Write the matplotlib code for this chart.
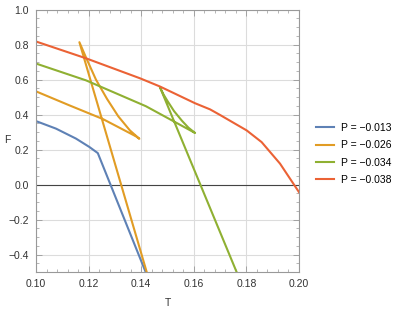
import numpy as np
import matplotlib
matplotlib.use("Agg")
import matplotlib.pyplot as plt
from matplotlib.ticker import MultipleLocator

# ---------------- DATA ----------------
labels = ["P = \u22120.013", "P = \u22120.026", "P = \u22120.034", "P = \u22120.038"]
colors = ["#5E81B5", "#E19C24", "#8FB032", "#EB6235"]

T_blue = [0.100, 0.1076, 0.1152, 0.1203, 0.1235, 0.1417]
F_blue = [0.363, 0.320, 0.263, 0.215, 0.180, -0.500]

# lower branch -> cusp -> middle branch -> cusp -> upper branch
T_orange = [0.100, 0.1127, 0.1254, 0.1380, 0.1393,
            0.1357, 0.1313, 0.1270, 0.1228, 0.1192, 0.1165,
            0.1421]
F_orange = [0.533, 0.453, 0.375, 0.276, 0.262,
            0.310, 0.390, 0.490, 0.600, 0.720, 0.814,
            -0.500]

T_green = [0.100, 0.1190, 0.1418, 0.1522, 0.1605,
           0.1580, 0.1555, 0.1525, 0.1500, 0.1485, 0.1471,
           0.1763]
F_green = [0.692, 0.596, 0.448, 0.363, 0.295,
           0.325, 0.365, 0.420, 0.478, 0.515, 0.558,
           -0.500]

T_red = [0.100, 0.119, 0.1395, 0.1471, 0.1605, 0.1662, 0.170,
         0.1801, 0.1858, 0.1928, 0.2001]
F_red = [0.818, 0.722, 0.608, 0.561, 0.465, 0.430, 0.398,
         0.310, 0.243, 0.120, -0.045]

series = [(T_blue, F_blue), (T_orange, F_orange), (T_green, F_green), (T_red, F_red)]

# ---------------- PLOT ----------------
plt.rcParams['font.family'] = ['Liberation Sans', 'DejaVu Sans']
fig = plt.figure(figsize=(4.07, 3.12), dpi=100)
ax = fig.add_axes([0.0885, 0.128, 0.646, 0.841])

for (t, f), c, lab in zip(series, colors, labels):
    ax.plot(t, f, color=c, lw=1.5, label=lab, solid_joinstyle='round')

ax.axhline(0, color='#444444', lw=0.8, zorder=1)

ax.set_xlim(0.10, 0.20)
ax.set_ylim(-0.5, 1.0)
ax.xaxis.set_major_locator(MultipleLocator(0.02))
ax.xaxis.set_minor_locator(MultipleLocator(0.004))
ax.yaxis.set_major_locator(MultipleLocator(0.2))
ax.yaxis.set_minor_locator(MultipleLocator(0.05))
ax.set_xticklabels([f"{v:.2f}" for v in ax.get_xticks()])
ax.set_yticklabels([f"{v:.1f}".replace("-", "\u2212") for v in ax.get_yticks()])

ax.grid(True, which='major', color='#dcdcdc', lw=0.8, zorder=0)
ax.set_axisbelow(True)
ax.tick_params(which='both', direction='in', top=True, right=True,
               color='#999999', labelsize=7.5, labelcolor='#333333')
ax.tick_params(which='major', length=4, width=0.6, pad=5)
ax.tick_params(which='minor', length=2, width=0.5)
for s in ax.spines.values():
    s.set_color('#999999')
    s.set_linewidth(0.8)

fig.text(4 / 407, 1 - 140 / 312, "F", fontsize=7.5, color='#333333', va='center')
fig.text(168 / 407, 1 - 303 / 312, "T", fontsize=7.5, color='#333333', ha='center', va='center')

ax.legend(loc='center left', bbox_to_anchor=(316 / 407, 1 - 154 / 312),
          bbox_transform=fig.transFigure, frameon=False, fontsize=7.5,
          handlelength=1.75, handletextpad=0.65, labelspacing=0.7,
          borderaxespad=0, borderpad=0)

fig.savefig("out.png", dpi=100)
